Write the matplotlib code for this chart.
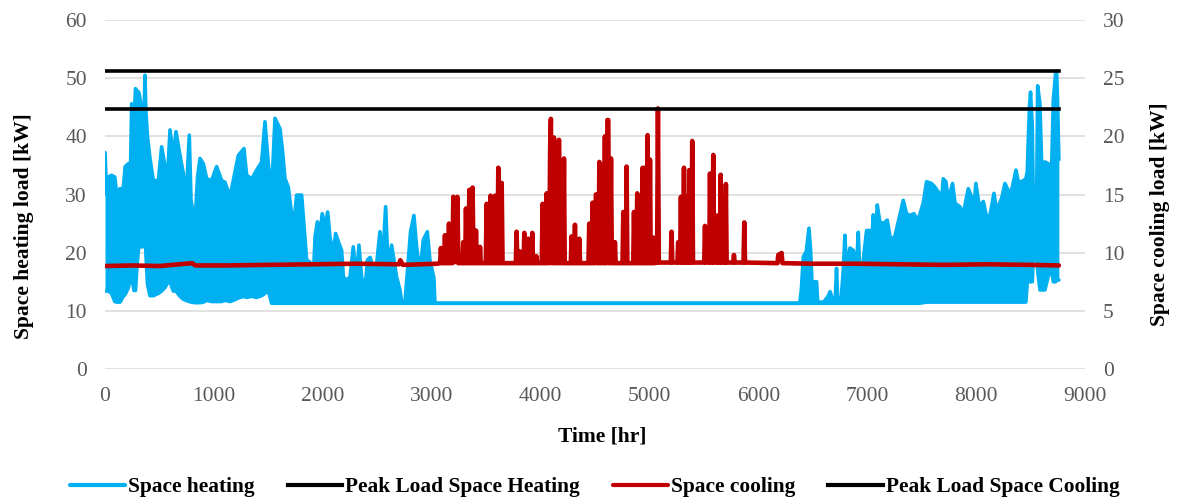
import matplotlib
matplotlib.use("Agg")
import matplotlib.pyplot as plt

plt.rcParams['font.family'] = ['Liberation Serif', 'DejaVu Serif']

# ---------------- data ----------------
# Space heating: hourly load shown by its upper / lower envelope [kW], left axis
heat_hr = [0, 15, 30, 60, 90, 107, 138, 168, 185, 215, 235, 245, 255, 265, 280, 295, 310, 330, 345, 360,
           367, 375, 390, 413, 444, 490, 520, 551, 580, 597, 627, 652, 689, 719, 744, 774, 790, 826, 850, 872,
           903, 934, 979, 1025, 1071, 1102, 1148, 1178, 1224, 1276, 1301, 1347, 1393, 1439, 1469, 1500, 1530, 1561, 1607, 1630,
           1653, 1683, 1714, 1745, 1760, 1806, 1827, 1852, 1882, 1905, 1929, 1950, 1974, 1995, 2020, 2045, 2066, 2097, 2118, 2143,
           2173, 2189, 2219, 2250, 2280, 2311, 2332, 2357, 2388, 2409, 2434, 2464, 2495, 2525, 2550, 2577, 2602, 2632, 2654, 2678,
           2709, 2724, 2755, 2785, 2806, 2837, 2862, 2892, 2923, 2960, 2984, 3021, 3030, 6380,
           6395, 6413, 6440, 6465, 6480, 6495, 6505, 6521, 6535, 6545, 6600, 6640, 6659, 6690, 6705, 6718, 6730, 6760, 6780, 6795,
           6810, 6841, 6872, 6900, 6918, 6940, 6960, 6994, 7025, 7040, 7055, 7075, 7092, 7116, 7147, 7184, 7214, 7254, 7285, 7331,
           7361, 7392, 7429, 7453, 7477, 7514, 7545, 7590, 7621, 7661, 7682, 7698, 7723, 7744, 7784, 7806, 7851, 7882, 7928, 7958,
           7975, 7998, 8029, 8066, 8096, 8127, 8164, 8188, 8234, 8265, 8295, 8326, 8366, 8387, 8418, 8457, 8470, 8479, 8490, 8500,
           8516, 8525, 8556, 8565, 8586, 8602, 8632, 8663, 8694, 8709, 8730, 8739, 8748, 8760]
heat_up = [37.2, 30.0, 33.0, 33.3, 33.0, 30.2, 31.0, 31.0, 34.8, 35.3, 35.3, 45.6, 41.6, 41.6, 48.2, 47.8, 47.6, 45.6, 45.6, 44.5,
           50.5, 44.5, 40.0, 36.2, 32.4, 32.4, 38.2, 34.9, 35.0, 41.1, 36.5, 40.8, 36.7, 33.6, 29.0, 40.2, 29.0, 25.0, 33.0, 36.2,
           35.3, 32.7, 32.4, 34.8, 32.4, 32.1, 29.6, 32.4, 36.7, 37.9, 33.3, 32.7, 34.2, 35.6, 42.5, 35.3, 30.2, 43.1, 41.3, 37.6,
           32.7, 31.3, 26.7, 27.0, 29.9, 29.9, 24.7, 18.7, 18.4, 12.0, 22.7, 25.3, 23.3, 26.7, 24.4, 27.0, 22.7, 19.8, 23.3, 21.9,
           20.4, 15.8, 15.3, 15.8, 21.0, 15.3, 21.3, 15.8, 13.6, 18.7, 19.2, 17.5, 18.1, 23.6, 18.7, 27.9, 16.9, 21.3, 18.7, 15.8,
           13.6, 11.5, 11.5, 18.7, 23.6, 26.4, 21.0, 16.4, 22.2, 23.6, 18.7, 15.6, 11.3, 11.3,
           13.6, 19.3, 20.2, 24.2, 20.4, 14.0, 11.8, 15.0, 15.0, 11.5, 11.5, 12.5, 13.3, 11.5, 11.5, 17.3, 11.5, 11.8, 17.0, 23.0,
           17.0, 20.8, 20.4, 17.0, 23.5, 12.0, 18.0, 23.8, 23.8, 21.0, 26.5, 22.0, 28.2, 25.3, 25.0, 25.6, 22.2, 22.8, 25.3, 29.0,
           26.7, 26.4, 26.7, 25.9, 26.2, 28.5, 32.2, 31.9, 31.3, 30.2, 29.0, 32.7, 32.2, 29.0, 31.9, 28.5, 27.9, 26.7, 31.0, 29.6,
           26.7, 31.9, 27.9, 28.8, 26.2, 26.4, 30.2, 27.3, 29.3, 31.9, 30.7, 30.7, 34.2, 32.2, 32.2, 32.7, 34.0, 39.4, 45.0, 47.6,
           41.6, 29.0, 29.0, 48.7, 45.6, 35.3, 35.6, 35.3, 34.8, 46.2, 50.8, 51.2, 46.2, 36.0]
heat_lo = [13.4, 13.4, 13.4, 13.0, 11.6, 11.5, 11.5, 12.5, 12.8, 14.0, 15.5, 18.7, 15.0, 13.5, 13.5, 18.0, 21.0, 21.0, 21.0, 24.0,
           26.0, 20.0, 14.6, 12.6, 12.6, 13.0, 13.4, 14.0, 15.0, 15.0, 13.4, 13.4, 12.5, 12.0, 11.8, 11.6, 11.5, 11.4, 11.4, 11.4,
           11.5, 11.8, 11.6, 11.6, 11.6, 11.8, 11.6, 11.8, 12.2, 12.5, 12.3, 12.5, 12.3, 12.6, 13.0, 13.5, 11.3, 11.3, 11.3, 11.3,
           11.3, 11.3, 11.3, 11.3, 11.3, 11.3, 11.3, 11.3, 11.3, 11.3, 11.3, 11.3, 11.3, 11.3, 11.3, 11.3, 11.3, 11.3, 11.3, 11.3,
           11.3, 11.3, 11.3, 11.3, 11.3, 11.3, 11.3, 11.3, 11.3, 11.3, 11.3, 11.3, 11.3, 11.3, 11.3, 11.3, 11.3, 11.3, 11.3, 11.3,
           11.3, 11.3, 11.3, 11.3, 11.3, 11.3, 11.3, 11.3, 11.3, 11.3, 11.3, 11.3, 11.3, 11.3,
           11.3, 11.3, 11.3, 11.3, 11.3, 11.3, 11.3, 11.3, 11.3, 11.3, 11.3, 11.3, 11.3, 11.3, 11.3, 11.3, 11.3, 11.3, 11.3, 11.3,
           11.3, 11.3, 11.3, 11.3, 11.3, 11.3, 11.3, 11.3, 11.3, 11.3, 11.3, 11.3, 11.3, 11.3, 11.3, 11.3, 11.3, 11.3, 11.3, 11.3,
           11.3, 11.3, 11.3, 11.3, 11.3, 11.4, 11.5, 11.5, 11.5, 11.5, 11.5, 11.5, 11.5, 11.5, 11.5, 11.5, 11.5, 11.5, 11.5, 11.5,
           11.5, 11.5, 11.5, 11.5, 11.5, 11.5, 11.5, 11.5, 11.5, 11.5, 11.5, 11.5, 11.5, 11.5, 11.5, 11.5, 15.0, 15.0, 15.0, 15.0,
           15.0, 19.3, 19.3, 17.0, 13.6, 13.6, 13.6, 16.0, 17.0, 15.0, 15.0, 15.3, 15.3, 15.3]

# Space cooling: hourly load [kW], right axis
cool_hr = [0, 250, 500, 800, 830, 1100, 1500, 1900, 2300, 2700, 2712, 2735, 2900, 3050,
           3078, 3085, 3092, 3115, 3122, 3129, 3152, 3159, 3166, 3190, 3199, 3208, 3226, 3236, 3245,
           3283, 3290, 3297, 3308, 3315, 3324, 3338, 3346, 3354, 3368, 3376, 3384, 3400, 3407, 3414, 3437, 3444, 3451,
           3497, 3505, 3513, 3533, 3541, 3549, 3573, 3581, 3589, 3604, 3612, 3620, 3635, 3643, 3651,
           3773, 3780, 3787, 3804, 3811, 3818, 3844, 3851, 3858, 3881, 3888, 3895, 3917, 3924, 3931,
           3955, 3962, 3969, 4011, 4019, 4027, 4048, 4056, 4064, 4072, 4080, 4088, 4095, 4102, 4110, 4117, 4123,
           4130, 4140, 4148, 4155, 4162, 4169, 4176, 4185, 4192, 4200, 4207, 4215, 4222,
           4278, 4285, 4292, 4309, 4316, 4323, 4349, 4356, 4363,
           4440, 4447, 4454, 4470, 4478, 4486, 4500, 4508, 4515, 4522, 4532, 4540, 4548, 4556, 4564, 4572, 4583, 4591, 4598,
           4606, 4614, 4622, 4630, 4638, 4647, 4655, 4676, 4683, 4690,
           4753, 4760, 4767, 4783, 4790, 4797, 4851, 4858, 4865, 4880, 4888, 4895, 4905, 4912, 4919, 4930, 4937, 4944,
           4952, 4959, 4966, 4976, 4983, 4990, 4998, 5005, 5012, 5028, 5035, 5042, 5070, 5078, 5086,
           5196, 5203, 5210, 5257, 5264, 5271, 5282, 5289, 5296, 5310, 5317, 5324, 5340, 5347, 5354, 5359, 5366, 5373,
           5386, 5393, 5400, 5503, 5510, 5517, 5549, 5556, 5563, 5579, 5586, 5593, 5619, 5626, 5633, 5647, 5654, 5661,
           5680, 5688, 5695, 5702, 5709, 5769, 5776, 5783, 5864, 5871, 5878, 6176, 6183, 6214, 6221,
           6500, 6900, 7300, 7700, 8100, 8500, 8760]
cool_kw = [8.85, 8.9, 8.85, 9.1, 8.9, 8.9, 8.95, 9.0, 9.05, 9.0, 9.35, 8.95, 9.0, 9.05,
           9.1, 10.4, 9.1, 9.1, 11.5, 9.1, 9.1, 12.5, 9.1, 9.1, 14.8, 9.2, 9.2, 14.8, 9.1,
           9.1, 10.9, 9.1, 9.1, 13.8, 9.1, 9.1, 15.4, 9.1, 9.1, 15.6, 9.1, 9.1, 11.9, 9.1, 9.1, 10.5, 9.1,
           9.1, 14.2, 9.1, 9.1, 14.9, 9.1, 9.1, 14.9, 9.1, 9.1, 17.3, 9.1, 9.1, 16.0, 9.1,
           9.1, 11.8, 9.1, 9.1, 10.1, 9.1, 9.1, 11.7, 9.1, 9.1, 11.2, 9.1, 9.1, 11.7, 9.1,
           9.1, 9.7, 9.1, 9.1, 14.2, 9.1, 9.1, 15.1, 9.1, 14.0, 9.1, 19.0, 21.5, 9.1, 18.0, 9.1, 19.9,
           9.1, 15.4, 9.1, 17.0, 9.1, 19.7, 9.1, 15.4, 9.1, 14.0, 9.1, 18.1, 9.1,
           9.1, 11.4, 9.1, 9.1, 12.4, 9.1, 9.1, 11.2, 9.1,
           9.1, 12.5, 9.1, 9.1, 14.3, 9.1, 9.1, 15.0, 15.0, 9.1, 9.1, 17.8, 9.1, 9.1, 17.5, 9.1, 9.1, 20.0, 9.1,
           9.1, 21.4, 21.4, 9.1, 9.1, 18.1, 9.1, 9.1, 10.9, 9.1,
           9.1, 13.5, 9.1, 9.1, 17.4, 9.1, 9.1, 13.5, 9.1, 9.1, 15.1, 9.1, 9.1, 12.3, 9.1, 9.1, 17.3, 9.1,
           9.1, 17.3, 9.1, 9.1, 20.1, 9.1, 9.1, 18.0, 9.1, 9.1, 11.3, 9.1, 9.15, 22.4, 9.15,
           9.15, 11.8, 9.15, 9.15, 10.9, 9.15, 9.15, 14.8, 9.15, 9.15, 17.3, 9.15, 9.15, 14.8, 9.15, 9.15, 17.1, 9.15,
           9.15, 19.6, 9.15, 9.15, 12.3, 9.15, 9.15, 16.8, 9.15, 9.15, 18.4, 9.15, 9.15, 13.2, 9.15, 9.15, 16.7, 9.15,
           9.15, 14.5, 9.15, 15.9, 9.15, 9.15, 9.8, 9.15, 9.15, 12.6, 9.15, 9.1, 9.8, 9.97, 9.1,
           9.05, 9.05, 9.0, 8.95, 9.0, 8.95, 8.9]

# Peak loads [kW]
peak_heating = 51.2
peak_cooling = 22.36
year_span = [0, 8760]

x_ticks = list(range(0, 9001, 1000))
left_ticks = list(range(0, 61, 10))
right_ticks = list(range(0, 31, 5))

labels = ['Space heating', 'Peak Load Space Heating', 'Space cooling', 'Peak Load Space Cooling']

# ---------------- styling ----------------
BLUE = '#00B0F0'
RED = '#C00000'
GRID = '#D9D9D9'
TICKC = '#595959'

fig = plt.figure(figsize=(11.77, 4.99), dpi=100)
ax = fig.add_axes([105 / 1177, 1 - 369 / 499, 980 / 1177, 349 / 499])
ax2 = ax.twinx()

ax.set_xlim(0, 9000)
ax.set_ylim(0, 60)
ax2.set_ylim(0, 30)
ax.set_xticks(x_ticks)
ax.set_yticks(left_ticks)
ax2.set_yticks(right_ticks)

ax.grid(axis='y', color=GRID, lw=1.1)
ax.set_axisbelow(True)
for a in (ax, ax2):
    for s in a.spines.values():
        s.set_visible(False)
    a.tick_params(length=0, labelsize=15.5, colors=TICKC, pad=13)

# heating
ax.fill_between(heat_hr, heat_lo, heat_up, color=BLUE, lw=0, zorder=2)
lh, = ax.plot(heat_hr, heat_up, color=BLUE, lw=2.6, solid_joinstyle='round',
              solid_capstyle='round', zorder=3)
ax.plot(heat_hr, heat_lo, color=BLUE, lw=2.6, solid_joinstyle='round',
        solid_capstyle='round', zorder=3)
lph, = ax.plot(year_span, [peak_heating, peak_heating], color='black', lw=2.6, zorder=5)

# cooling
lc, = ax2.plot(cool_hr, cool_kw, color=RED, lw=3.3, solid_joinstyle='round',
               solid_capstyle='round', zorder=3)
lpc, = ax2.plot(year_span, [peak_cooling, peak_cooling], color='black', lw=2.6, zorder=5)

# axis labels
fig.text(24 / 1177, 1 - 226 / 499, 'Space heating load [kW]', rotation=90, ha='center',
         va='center', fontsize=15.5, fontweight='bold')
fig.text(1160 / 1177, 1 - 214 / 499, 'Space cooling load [kW]', rotation=90, ha='center',
         va='center', fontsize=15.5, fontweight='bold')
fig.text(602 / 1177, 1 - 437 / 499, 'Time [hr]', ha='center', va='center',
         fontsize=15.5, fontweight='bold')

leg = fig.legend([lh, lph, lc, lpc], labels, loc='center', ncol=4,
                 bbox_to_anchor=(595 / 1177, 1 - 487 / 499), frameon=False,
                 prop={'weight': 'bold', 'size': 15.4}, handlelength=2.55,
                 handletextpad=0.15, columnspacing=1.55, borderpad=0)
for h in leg.get_lines():
    h.set_linewidth(3)

fig.savefig('out.png', dpi=100)
